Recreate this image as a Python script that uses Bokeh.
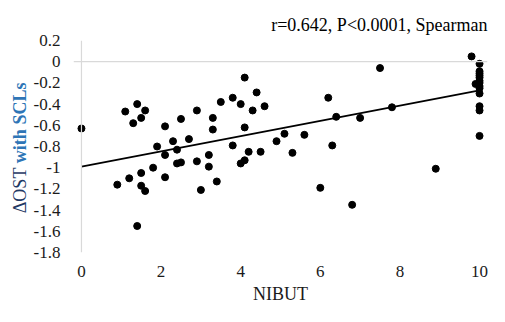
import math
from bokeh.plotting import figure
from bokeh.layouts import row
from bokeh.models import Range1d, FixedTicker, Span, CustomJSTickFormatter
from bokeh.core.properties import value
from bokeh.embed import file_html
from bokeh.resources import INLINE

# ---- data ----
nibut = [0, 0.9, 1.1, 1.2, 1.3, 1.4, 1.4, 1.5, 1.5, 1.5, 1.6, 1.6, 1.8, 1.9,
         2.1, 2.1, 2.1, 2.3, 2.4, 2.4, 2.5, 2.5, 2.7, 2.9, 2.9, 3.0, 3.2, 3.2,
         3.3, 3.3, 3.4, 3.5, 3.8, 3.8, 4.0, 4.0, 4.1, 4.1, 4.1, 4.2, 4.3, 4.4,
         4.5, 4.6, 4.9, 5.1, 5.3, 5.6, 6.0, 6.2, 6.3, 6.4, 6.8, 7.0, 7.5, 7.8,
         8.9, 9.8, 9.9,
         10, 10, 10, 10, 10, 10, 10, 10, 10, 10, 10, 10, 10]
delta_ost = [-0.63, -1.16, -0.47, -1.10, -0.58, -0.40, -1.55, -0.53, -1.05, -1.17,
             -0.46, -1.22, -1.00, -0.80, -0.61, -0.88, -1.09, -0.75, -0.83, -0.96,
             -0.95, -0.54, -0.73, -0.46, -0.94, -1.21, -0.88, -0.99, -0.53, -0.64,
             -1.13, -0.38, -0.34, -0.79, -0.40, -0.96, -0.15, -0.62, -0.93, -0.85,
             -0.46, -0.29, -0.85, -0.42, -0.75, -0.68, -0.86, -0.69, -1.19, -0.34,
             -0.79, -0.52, -1.35, -0.53, -0.06, -0.43, -1.01, 0.05, -0.21,
             -0.02, -0.09, -0.11, -0.13, -0.15, -0.18, -0.20, -0.23, -0.25, -0.30,
             -0.42, -0.46, -0.70]
trend_x = [0, 10]
trend_y = [-0.99, -0.27]
x_ticks = [0, 2, 4, 6, 8, 10]
y_ticks = [0.2, 0, -0.2, -0.4, -0.6, -0.8, -1, -1.2, -1.4, -1.6, -1.8]
title_text = "r=0.642, P<0.0001, Spearman"
x_label = "NIBUT"
y_label_a = "\u0394OST "
y_label_b = "with SCLs"

FONT = "Liberation Serif"
TOTAL_H = 306
LAB_W = 30

# ---- main plot ----
p = figure(width=489 - LAB_W, height=TOTAL_H, output_backend="svg",
           toolbar_location=None,
           x_range=Range1d(-0.2, 10.2), y_range=Range1d(-1.8, 0.2),
           min_border_left=39, min_border_right=2, min_border_top=40,
           min_border_bottom=10)
p.outline_line_color = None
p.grid.visible = False

p.title.text = title_text
p.title.align = "right"
p.title.vertical_align = "middle"
p.title.text_font = FONT
p.title.text_font_size = "18px"
p.title.text_font_style = "normal"
p.title.text_color = "black"

xa = p.xaxis[0]
xa.ticker = FixedTicker(ticks=x_ticks)
xa.axis_line_color = None
xa.major_tick_line_color = None
xa.minor_tick_line_color = None
xa.major_label_text_font = FONT
xa.major_label_text_font_size = "17px"
xa.major_label_text_color = "#1a1a1a"
xa.major_label_standoff = 7
xa.axis_label = x_label
xa.axis_label_text_font = FONT
xa.axis_label_text_font_size = "18px"
xa.axis_label_text_font_style = "normal"
xa.axis_label_text_color = "#1a1a1a"
xa.axis_label_standoff = 4

ya = p.yaxis[0]
ya.ticker = FixedTicker(ticks=y_ticks)
ya.formatter = CustomJSTickFormatter(code="""
    let s = (Math.round(tick * 10) / 10).toFixed(1);
    s = s.replace(/\\.0$/, '');
    if (s === '-0') s = '0';
    return s;
""")
ya.axis_line_color = None
ya.major_tick_line_color = None
ya.minor_tick_line_color = None
ya.major_label_text_font = FONT
ya.major_label_text_font_size = "17px"
ya.major_label_text_color = "#1a1a1a"
ya.major_label_standoff = 7

p.add_layout(Span(location=0, dimension="width", line_color="#d9d9d9", line_width=1.2))
p.add_layout(Span(location=0, dimension="height", line_color="#d9d9d9", line_width=1.2))

p.scatter(nibut, delta_ost, size=7, color="black")
p.line(trend_x, trend_y, line_color="black", line_width=1.7)

# ---- y-axis title strip (two colours) ----
lab = figure(width=LAB_W, height=TOTAL_H, output_backend="svg",
             toolbar_location=None, x_range=Range1d(0, LAB_W),
             y_range=Range1d(0, TOTAL_H), min_border=0)
lab.axis.visible = False
lab.grid.visible = False
lab.outline_line_color = None
lab.text(x=[19], y=[TOTAL_H - 177], text=[y_label_a], angle=math.pi / 2,
         text_align="right", text_baseline="middle", text_font=value(FONT),
         text_font_size="18px", text_color="#1f3864")
lab.text(x=[19], y=[TOTAL_H - 177], text=[y_label_b], angle=math.pi / 2,
         text_align="left", text_baseline="middle", text_font=value(FONT),
         text_font_size="18px", text_font_style="bold", text_color="#2e75b6")

layout = row(lab, p, spacing=0)
open("out.html", "w").write(file_html(layout, INLINE))
